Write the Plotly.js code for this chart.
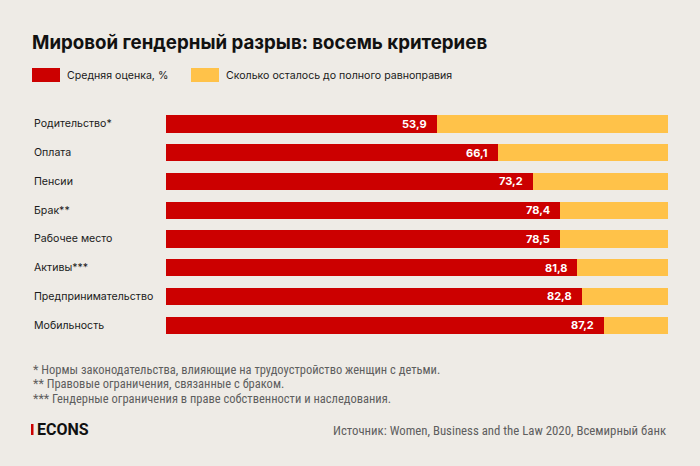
<!DOCTYPE html>
<html><head><meta charset="utf-8">
<script src="https://cdn.plot.ly/plotly-3.0.1.min.js"></script>
<style>html,body{margin:0;padding:0;background:#eeebe6;}#c{width:700px;height:466px;}</style>
</head><body><div id="c"></div>
<script>
const categories = ["Родительство*","Оплата","Пенсии","Брак**","Рабочее место","Активы***","Предпринимательство","Мобильность"];
const scores = [53.9, 66.1, 73.2, 78.4, 78.5, 81.8, 82.8, 87.2];
const remaining = scores.map(v => +(100 - v).toFixed(1));
const seriesNames = ["Средняя оценка, %", "Сколько осталось до полного равноправия"];
const footnotes = ["* Нормы законодательства, влияющие на трудоустройство женщин с детьми.",
  "** Правовые ограничения, связанные с браком.",
  "*** Гендерные ограничения в праве собственности и наследования."];
const titleText = "Мировой гендерный разрыв: восемь критериев";
const sourceText = "Источник: Women, Business and the Law 2020, Всемирный банк";

const RED = "#cc0000", YEL = "#ffc249";
const W = 700, H = 466;
const px = x => x / W, py = y => 1 - y / H;
const SANS = "Inter, Roboto, sans-serif";
const NARROW = "'Liberation Sans Narrow', 'Roboto Condensed', Roboto, sans-serif";

const traces = [
  {type:"bar", orientation:"h", y:categories, x:scores, name:seriesNames[0],
   marker:{color:RED}, width:0.6, hoverinfo:"skip"},
  {type:"bar", orientation:"h", y:categories, x:remaining, name:seriesNames[1],
   marker:{color:YEL}, width:0.6, hoverinfo:"skip"}
];

const annotations = [];
categories.forEach((c, i) => {
  annotations.push({xref:"paper", yref:"y", x:px(32), y:c, text:c,
    xanchor:"left", yanchor:"middle", showarrow:false,
    font:{family:SANS, size:10.6, color:"#1a1a1a"}});
  annotations.push({xref:"x", yref:"y", x:scores[i], y:c, xshift:-8,
    text:"<b>"+scores[i].toFixed(1).replace(".", ",")+"</b>",
    xanchor:"right", yanchor:"middle", showarrow:false,
    font:{family:SANS, size:11, color:"#ffffff"}});
});
annotations.push({xref:"paper", yref:"paper", x:px(30), y:py(42), text:"<b>"+titleText+"</b>",
  xanchor:"left", yanchor:"middle", showarrow:false,
  font:{family:SANS, size:18.7, color:"#111"}});
annotations.push({xref:"paper", yref:"paper", x:px(65), y:py(75), text:seriesNames[0],
  xanchor:"left", yanchor:"middle", showarrow:false,
  font:{family:SANS, size:10.6, color:"#1a1a1a"}});
annotations.push({xref:"paper", yref:"paper", x:px(224), y:py(75), text:seriesNames[1],
  xanchor:"left", yanchor:"middle", showarrow:false,
  font:{family:SANS, size:10.6, color:"#1a1a1a"}});
footnotes.forEach((t, i) => annotations.push({xref:"paper", yref:"paper", x:px(31), y:py(369 + i*14.5), text:t,
  xanchor:"left", yanchor:"middle", showarrow:false,
  font:{family:NARROW, size:12.5, color:"#5e5e5e"}}));
annotations.push({xref:"paper", yref:"paper", x:px(35), y:py(429.5), text:"<b>ECONS</b>",
  xanchor:"left", yanchor:"middle", showarrow:false,
  font:{family:"Roboto, sans-serif", size:16, color:"#111"}});
annotations.push({xref:"paper", yref:"paper", x:px(668), y:py(430), text:sourceText,
  xanchor:"right", yanchor:"middle", showarrow:false,
  font:{family:NARROW, size:12.8, color:"#5e5e5e"}});

const shapes = [
  {type:"rect", xref:"paper", yref:"paper", x0:px(32), x1:px(60), y0:py(68), y1:py(82), fillcolor:RED, line:{width:0}},
  {type:"rect", xref:"paper", yref:"paper", x0:px(191), x1:px(219), y0:py(68), y1:py(82), fillcolor:YEL, line:{width:0}},
  {type:"rect", xref:"paper", yref:"paper", x0:px(31), x1:px(33.5), y0:py(424), y1:py(435), fillcolor:RED, line:{width:0}}
];

const layout = {
  width:W, height:H, margin:{l:0, r:0, t:0, b:0},
  paper_bgcolor:"#eeebe6", plot_bgcolor:"rgba(0,0,0,0)",
  barmode:"stack", showlegend:false, bargap:0.4,
  xaxis:{domain:[px(166), px(668)], range:[0,100], visible:false, fixedrange:true},
  yaxis:{domain:[py(339.5), py(109.5)], autorange:"reversed", showticklabels:false, showgrid:false,
         zeroline:false, showline:false, ticks:"", type:"category"},
  annotations, shapes
};
Plotly.newPlot("c", traces, layout, {displayModeBar:false, staticPlot:true});
</script></body></html>
